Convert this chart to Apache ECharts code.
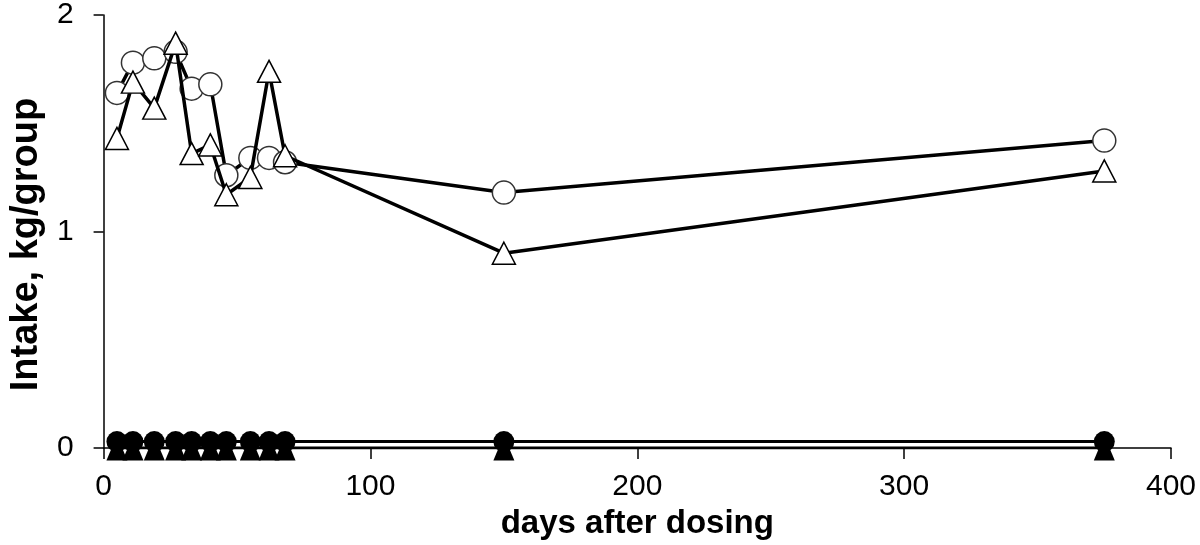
<!DOCTYPE html>
<html>
<head>
<meta charset="utf-8">
<script src="https://cdn.jsdelivr.net/npm/echarts@6/dist/echarts.min.js"></script>
<style>
html,body{margin:0;padding:0;background:#fff;}
#chart{width:1200px;height:545px;}
</style>
</head>
<body>
<div id="chart"></div>
<script>
// Data
const days = [5, 11, 19, 27, 33, 40, 46, 55, 62, 68, 150, 375];
const openCircle = [1.64, 1.78, 1.80, 1.83, 1.66, 1.68, 1.26, 1.34, 1.34, 1.32, 1.18, 1.42];
const openTriangle = [1.43, 1.69, 1.57, 1.87, 1.36, 1.40, 1.17, 1.25, 1.74, 1.35, 0.90, 1.28];
const filledCircle = [0.03, 0.03, 0.03, 0.03, 0.03, 0.03, 0.03, 0.03, 0.03, 0.03, 0.03, 0.03];
const filledTriangle = [0, 0, 0, 0, 0, 0, 0, 0, 0, 0, 0, 0];
const xTicks = [0, 100, 200, 300, 400];
const yTicks = [0, 1, 2];

const pairs = v => days.map((d, i) => [d, v[i]]);
const font = 'Liberation Sans, Arial, sans-serif';

const chart = echarts.init(document.getElementById('chart'));
chart.setOption({
  animation: false,
  backgroundColor: '#fff',
  grid: { left: 86, right: 29, top: 15, bottom: 94, containLabel: false },
  xAxis: {
    type: 'value',
    min: xTicks[0], max: xTicks[xTicks.length - 1], interval: 100,
    name: 'days after dosing',
    nameLocation: 'middle',
    nameGap: 56,
    nameTextStyle: { fontFamily: font, fontWeight: 'bold', fontSize: 33, color: '#000' },
    axisLine: { lineStyle: { color: '#000', width: 1.5 } },
    axisTick: { show: true, inside: false, length: 11, lineStyle: { color: '#000', width: 1.5 } },
    axisLabel: { fontFamily: font, fontSize: 30, color: '#000', margin: 24 },
    splitLine: { show: false }
  },
  yAxis: {
    type: 'value',
    min: yTicks[0], max: yTicks[yTicks.length - 1], interval: 1,
    name: 'Intake, kg/group',
    nameLocation: 'middle',
    nameGap: 50,
    nameRotate: 90,
    nameTextStyle: { fontFamily: font, fontWeight: 'bold', fontSize: 38, color: '#000', padding: [0, 26, 0, 0] },
    axisLine: { show: true, lineStyle: { color: '#000', width: 1.5 } },
    axisTick: { show: true, inside: false, length: 10, lineStyle: { color: '#000', width: 1.5 } },
    axisLabel: { fontFamily: font, fontSize: 30, color: '#000', margin: 30 },
    splitLine: { show: false }
  },
  series: [
    {
      type: 'line', data: pairs(openCircle), z: 2,
      symbol: 'circle', symbolSize: 23,
      lineStyle: { color: '#000', width: 3.5 },
      itemStyle: { color: '#fff', borderColor: '#333', borderWidth: 1.5 }
    },
    {
      type: 'line', data: pairs(openTriangle), z: 3,
      symbol: 'triangle', symbolSize: [23, 22],
      lineStyle: { color: '#000', width: 3.5 },
      itemStyle: { color: '#fff', borderColor: '#000', borderWidth: 1.5 }
    },
    {
      type: 'line', data: pairs(filledTriangle), z: 4,
      symbol: 'triangle', symbolSize: [21, 25],
      lineStyle: { color: '#000', width: 3 },
      itemStyle: { color: '#000', borderColor: '#000', borderWidth: 0 }
    },
    {
      type: 'line', data: pairs(filledCircle), z: 5,
      symbol: 'circle', symbolSize: 21,
      lineStyle: { color: '#000', width: 3 },
      itemStyle: { color: '#000', borderColor: '#000', borderWidth: 0 }
    }
  ]
});
</script>
</body>
</html>
